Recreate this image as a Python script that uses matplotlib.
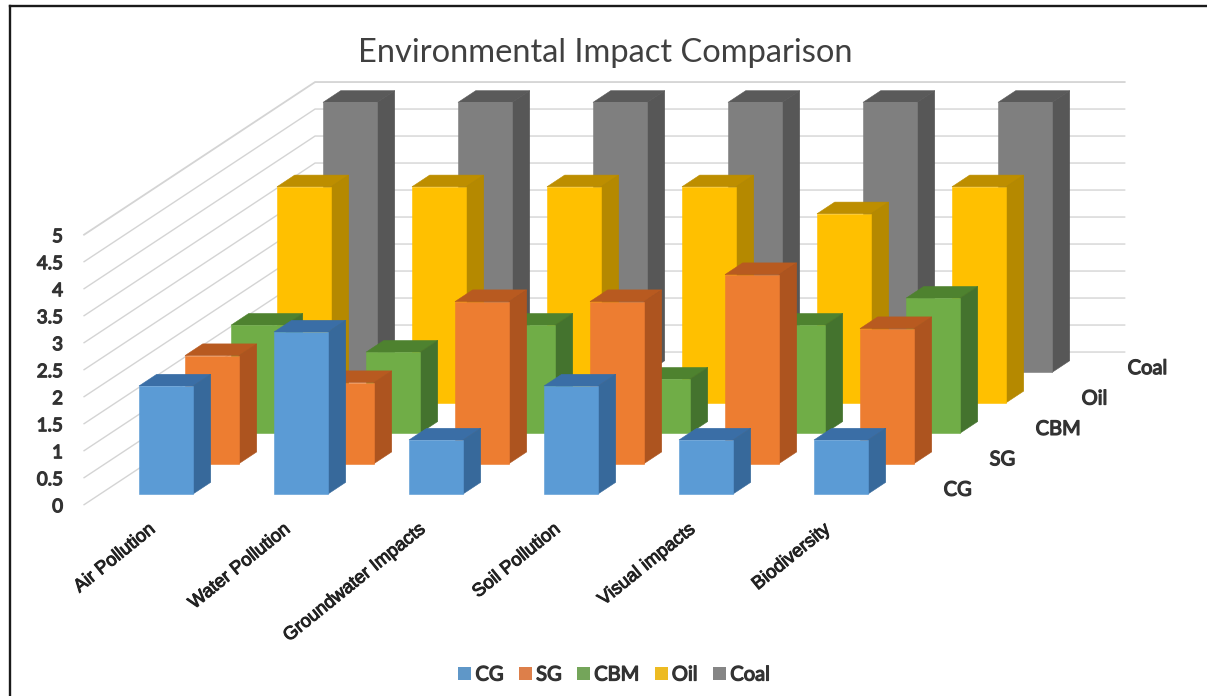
import matplotlib
matplotlib.use("Agg")
import matplotlib.pyplot as plt
import matplotlib.patheffects as pe
from matplotlib.lines import Line2D
from matplotlib.patches import Polygon, Patch

TITLE = "Environmental Impact Comparison"
categories = ["Air Pollution", "Water Pollution", "Groundwater Impacts",
              "Soil Pollution", "Visual impacts", "Biodiversity"]
series_names = ["CG", "SG", "CBM", "Oil", "Coal"]
cg = [2, 3, 1, 2, 1, 1]
sg = [2, 1.5, 3, 3, 3.5, 2.5]
cbm = [2, 1.5, 2, 1, 2, 2.5]
oil = [4, 4, 4, 4, 3.5, 4]
coal = [5, 5, 5, 5, 5, 5]
value_ticks = [0, 0.5, 1, 1.5, 2, 2.5, 3, 3.5, 4, 4.5, 5]
series_values = [cg, sg, cbm, oil, coal]

front = ["#5B9BD5", "#ED7D31", "#70AD47", "#FFC000", "#7F7F7F"]
side = ["#37699B", "#AD541F", "#44732E", "#B58900", "#575757"]
top = ["#3A6EA6", "#B85A20", "#4E822F", "#BD8E00", "#5A5A5A"]
swatch = ["#5F97C8", "#DD7F4A", "#74A55A", "#EDBB22", "#858585"]

W, H = 1207, 696
# oblique projection: one category = 135 px, one value unit = 54 px,
# one series step = 46 px right and 30.4 px up
X_UNIT, Y_UNIT = 135.0, 54.0
STEP_X, STEP_Y = 46.0 / X_UNIT, 30.4 / Y_UNIT
BAR_W = 0.4
BAR_D = 0.385
WALL_FRONT, WALL_BACK = -0.352, 4.67
WALL_L, WALL_R = -0.487, 5.51


def proj(c, v, d):
    return (c + d * STEP_X, v + d * STEP_Y)


fig = plt.figure(figsize=(W / 100, H / 100), dpi=100, facecolor="white")
ax = fig.add_axes([0, 0, 1, 1])
ax.set_xlim(-166 / X_UNIT, (W - 166) / X_UNIT)
ax.set_ylim((494 - H) / Y_UNIT, 494 / Y_UNIT)
ax.axis("off")

GRID = "#D4D4D4"
for v in value_ticks:
    pts = [proj(WALL_L, v, WALL_FRONT), proj(WALL_L, v, WALL_BACK), proj(WALL_R, v, WALL_BACK)]
    ax.plot(*zip(*pts), color=GRID, lw=1.3 if v == 5 else 1.0, zorder=1, solid_joinstyle="miter")

z = 2
for s in range(len(series_values) - 1, -1, -1):
    for i, v in enumerate(series_values[s]):
        x0, x1 = i - BAR_W / 2, i + BAR_W / 2
        d0, d1 = s, s + BAR_D
        faces = [
            ([proj(x0, v, d0), proj(x1, v, d0), proj(x1, v, d1), proj(x0, v, d1)], top[s]),
            ([proj(x1, 0, d0), proj(x1, 0, d1), proj(x1, v, d1), proj(x1, v, d0)], side[s]),
            ([proj(x0, 0, d0), proj(x1, 0, d0), proj(x1, v, d0), proj(x0, v, d0)], front[s]),
        ]
        for pts, col in faces:
            ax.add_patch(Polygon(pts, closed=True, facecolor=col, edgecolor=col, lw=0.4, zorder=z))
            z += 1

TXT = "#333333"
heavy = [pe.withStroke(linewidth=0.9, foreground=TXT)]
for v in value_ticks:
    x, y = proj(WALL_L, v, WALL_FRONT)
    ax.text(x - 21 / X_UNIT, y - 2 / Y_UNIT, f"{v:g}", ha="right", va="center", fontsize=13.5,
            family="Lato", color=TXT, zorder=z, path_effects=heavy)

cat_heavy = [pe.withStroke(linewidth=0.7, foreground="#222222")]
for i, name in enumerate(categories):
    ax.text(i - 0.095, -0.62, name, rotation=39, rotation_mode="anchor", ha="right", va="center",
            fontsize=13.3, family="Liberation Sans", color="#222222", zorder=z,
            path_effects=cat_heavy)

for s, name in enumerate(series_names):
    x, y = proj(5.76, 0.07, s)
    ax.text(x, y, name, ha="left", va="center", fontsize=14.5, family="Lato", color=TXT,
            zorder=z, path_effects=heavy)

ax.text(0.5017, 1 - 53 / H, TITLE, transform=ax.transAxes, ha="center", va="center",
        fontsize=23.5, family="Lato", color="#404040")

handles = [Patch(facecolor=c, edgecolor="none") for c in swatch]
leg = fig.legend(handles, series_names, ncol=5, loc="center", bbox_to_anchor=(614 / W, 1 - 675 / H),
                 frameon=False, handlelength=0.66, handleheight=0.66, handletextpad=0.2,
                 columnspacing=0.75, prop={"family": "Lato", "size": 14.5}, labelcolor=TXT)
for t in leg.get_texts():
    t.set_path_effects(heavy)

frame = dict(color="#1A1A1A", lw=1.7, transform=fig.transFigure)
fig.add_artist(Line2D([9.5 / W, 1], [1 - 6 / H, 1 - 6 / H], **frame))
fig.add_artist(Line2D([9.5 / W, 9.5 / W], [0, 1 - 6 / H], **frame))

fig.savefig("out.png", dpi=100, facecolor="white")
